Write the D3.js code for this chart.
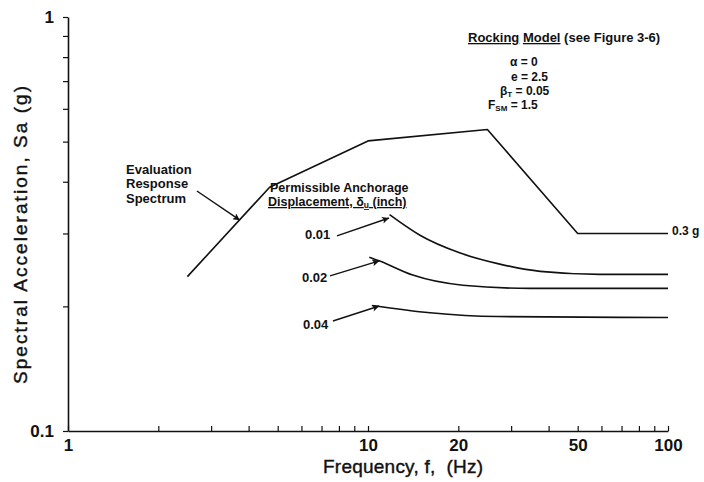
<!DOCTYPE html>
<html>
<head>
<meta charset="utf-8">
<script src="https://cdn.jsdelivr.net/npm/d3@7/dist/d3.min.js"></script>
<style>
  html, body { margin: 0; padding: 0; background: #fff; }
  svg { display: block; font-family: "Liberation Sans", Arial, Helvetica, sans-serif; }
  .ann { font-size: 13px; font-weight: bold; fill: #111; }
</style>
</head>
<body>
<svg id="chart" width="704" height="482"></svg>
<script>
// Axis ticks
const freqTicks = [1, 2, 3, 4, 5, 6, 7, 8, 9, 10, 20, 30, 40, 50, 60, 70, 80, 90, 100];
const freqLabels = [1, 10, 20, 50, 100];
const saTicks = [0.1, 0.2, 0.3, 0.4, 0.5, 0.6, 0.7, 0.8, 0.9, 1];
const saLabels = [0.1, 1];

// Evaluation response spectrum (Hz, g)
const specFreq = [2.5, 4.7, 10, 25, 50, 100];
const specSa = [0.236, 0.388, 0.502, 0.535, 0.3, 0.3];

// Permissible anchorage displacement curves
const d001Freq = [11.8, 14.9, 20.3, 27.5, 37.5, 59.3, 100];
const d001Sa = [0.333, 0.297, 0.269, 0.253, 0.243, 0.239, 0.239];
const d002Freq = [10.1, 11.0, 14.1, 20.7, 34.7, 100];
const d002Sa = [0.263, 0.257, 0.238, 0.225, 0.221, 0.221];
const d004Freq = [10.3, 16.1, 27, 100];
const d004Sa = [0.201, 0.193, 0.189, 0.188];

// Leader arrows: [tailFreq, tailSa, tipFreq, tipSa]
const arrows = [
  [2.69, 0.380, 3.74, 0.323],
  [7.88, 0.296, 11.75, 0.327],
  [7.47, 0.237, 10.9, 0.2575],
  [7.64, 0.1844, 10.9, 0.2004]
];

const svg = d3.select("#chart");
const ink = "#111";

const x = d3.scaleLog().domain([1, 100]).range([68, 668]);
const y = d3.scaleLog().domain([0.1, 1]).range([431, 17]);

// Arrowhead marker
svg.append("defs").append("marker")
  .attr("id", "head")
  .attr("markerUnits", "userSpaceOnUse")
  .attr("viewBox", "0 0 10 10")
  .attr("refX", 10).attr("refY", 5)
  .attr("markerWidth", 10).attr("markerHeight", 7)
  .attr("orient", "auto")
  .append("path").attr("d", "M0,0 L10,5 L0,10 L2.5,5 Z").attr("fill", ink);

// X axis (ticks point inward)
const xAxis = d3.axisBottom(x)
  .tickValues(freqTicks)
  .tickSizeInner(-5).tickSizeOuter(0).tickPadding(8)
  .tickFormat(d => freqLabels.includes(d) ? String(d) : "");
const gx = svg.append("g").attr("transform", "translate(0,431)").call(xAxis);

// Y axis (ticks point outward)
const yAxis = d3.axisLeft(y)
  .tickValues(saTicks)
  .tickSizeInner(5).tickSizeOuter(0).tickPadding(9)
  .tickFormat(d => saLabels.some(v => Math.abs(v - d) < 1e-9) ? String(d) : "");
const gy = svg.append("g").attr("transform", "translate(68,0)").call(yAxis);

[gx, gy].forEach(g => {
  g.select(".domain").attr("stroke", ink).attr("stroke-width", 1.6);
  g.selectAll(".tick line").attr("stroke", ink).attr("stroke-width", 1.2);
  g.selectAll(".tick text")
    .attr("fill", ink)
    .style("font-family", "'Liberation Sans', Arial, sans-serif")
    .style("font-size", "17px")
    .style("font-weight", "bold");
});

// Axis titles
svg.append("text")
  .attr("x", 403).attr("y", 473)
  .attr("text-anchor", "middle")
  .attr("textLength", 160).attr("lengthAdjust", "spacing")
  .style("font-size", "19px").style("white-space", "pre")
  .attr("fill", ink).attr("stroke", ink).attr("stroke-width", 0.4)
  .text("Frequency, f,  (Hz)");

svg.append("text")
  .attr("transform", "translate(27,235) rotate(-90)")
  .attr("text-anchor", "middle")
  .attr("textLength", 298).attr("lengthAdjust", "spacing")
  .style("font-size", "19px")
  .attr("fill", ink).attr("stroke", ink).attr("stroke-width", 0.4)
  .text("Spectral Acceleration, Sa (g)");

// Curves
const line = d3.line().x(d => x(d[0])).y(d => y(d[1]));
const smooth = d3.line().x(d => x(d[0])).y(d => y(d[1])).curve(d3.curveMonotoneX);

svg.append("path")
  .datum(d3.zip(specFreq, specSa))
  .attr("d", line)
  .attr("fill", "none").attr("stroke", ink).attr("stroke-width", 1.6)
  .attr("stroke-linejoin", "round");

[[d001Freq, d001Sa], [d002Freq, d002Sa], [d004Freq, d004Sa]].forEach(([f, s]) => {
  svg.append("path")
    .datum(d3.zip(f, s))
    .attr("d", smooth)
    .attr("fill", "none").attr("stroke", ink).attr("stroke-width", 1.6);
});

// Leader arrows
svg.selectAll(".arrow").data(arrows).enter().append("line")
  .attr("class", "arrow")
  .attr("x1", d => x(d[0])).attr("y1", d => y(d[1]))
  .attr("x2", d => x(d[2])).attr("y2", d => y(d[3]))
  .attr("stroke", ink).attr("stroke-width", 1.4)
  .attr("marker-end", "url(#head)");

// Annotations
function label(px, py, txt, size) {
  return svg.append("text").attr("class", "ann")
    .attr("x", px).attr("y", py)
    .style("font-size", (size || 13) + "px")
    .text(txt);
}

label(126, 174, "Evaluation");
label(126, 188, "Response");
label(126, 203, "Spectrum");

label(270, 192, "Permissible Anchorage", 12.5);
const disp = svg.append("text").attr("class", "ann").attr("x", 268).attr("y", 206)
  .style("font-size", "12.5px")
  .style("text-decoration", "underline");
disp.append("tspan").text("Displacement, δ");
disp.append("tspan").attr("dy", 2).style("font-size", "8.5px").text("u");
disp.append("tspan").attr("dy", -2).text(" (inch)");

label(305, 239, "0.01");
label(302, 282, "0.02");
label(303, 329, "0.04");

const title = svg.append("text").attr("class", "ann").attr("x", 468).attr("y", 42);
title.append("tspan").style("text-decoration", "underline").text("Rocking");
title.append("tspan").text(" ");
title.append("tspan").style("text-decoration", "underline").text("Model");
title.append("tspan").text(" (see Figure 3-6)");

label(510, 66, "α = 0", 12);
label(511, 81, "e = 2.5", 12);
const beta = svg.append("text").attr("class", "ann").attr("x", 500).attr("y", 95)
  .style("font-size", "12px");
beta.append("tspan").text("β");
beta.append("tspan").attr("dy", 2).style("font-size", "8px").text("T");
beta.append("tspan").attr("dy", -2).text(" = 0.05");
const fsm = svg.append("text").attr("class", "ann").attr("x", 488).attr("y", 109)
  .style("font-size", "12px");
fsm.append("tspan").text("F");
fsm.append("tspan").attr("dy", 2).style("font-size", "8px").text("SM");
fsm.append("tspan").attr("dy", -2).text(" = 1.5");

label(672, 235, "0.3 g", 12);
</script>
</body>
</html>
